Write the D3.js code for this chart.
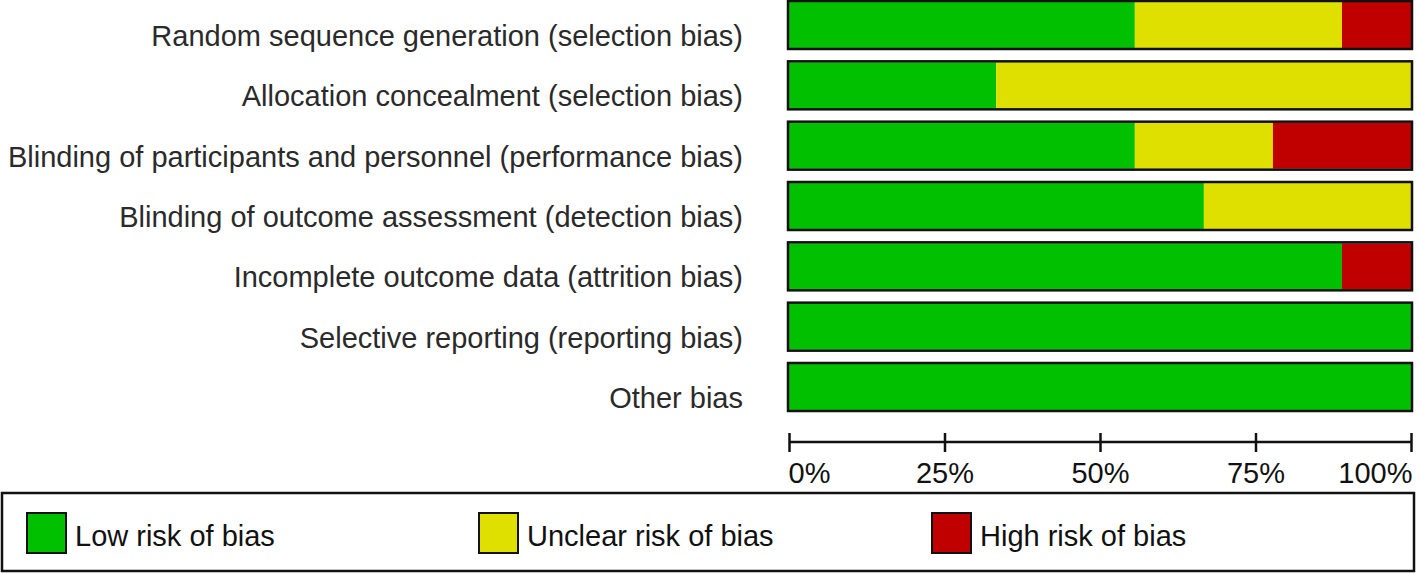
<!DOCTYPE html>
<html><head><meta charset="utf-8">
<script src="https://cdn.jsdelivr.net/npm/d3@7"></script>
<style>html,body{margin:0;padding:0;background:#fff}svg{display:block}</style>
</head><body>
<svg id="chart" width="1418" height="574"></svg>
<script>
const categories = [
  "Random sequence generation (selection bias)",
  "Allocation concealment (selection bias)",
  "Blinding of participants and personnel (performance bias)",
  "Blinding of outcome assessment (detection bias)",
  "Incomplete outcome data (attrition bias)",
  "Selective reporting (reporting bias)",
  "Other bias"
];
const lowRisk     = [55.6, 33.3, 55.6, 66.7, 88.9, 100, 100];
const unclearRisk = [33.3, 66.7, 22.2, 33.3, 0, 0, 0];
const highRisk    = [11.1, 0, 22.2, 0, 11.1, 0, 0];
const tickValues = [0, 25, 50, 75, 100];
const tickLabels = ["0%", "25%", "50%", "75%", "100%"];
const seriesNames = ["Low risk of bias", "Unclear risk of bias", "High risk of bias"];
const seriesColors = ["#00C000", "#E0E000", "#C00000"];

const svg = d3.select("#chart");
const font = "'Liberation Sans', Arial, Helvetica, sans-serif";
const fs = 29;

const x = d3.scaleLinear().domain([0, 100]).range([789, 1411]);
const y = d3.scaleBand().domain(categories).range([2, 410]).paddingInner(0.2376).paddingOuter(0);

const stackData = categories.map((c, i) => ({cat: c, low: lowRisk[i], unclear: unclearRisk[i], high: highRisk[i]}));
const stack = d3.stack().keys(["low", "unclear", "high"])(stackData);

const g = svg.append("g");
stack.forEach((layer, k) => {
  g.selectAll(null).data(layer.filter(d => d[1] - d[0] > 0)).enter().append("rect")
    .attr("x", d => x(d[0]))
    .attr("width", d => x(d[1]) - x(d[0]))
    .attr("y", d => y(d.data.cat))
    .attr("height", y.bandwidth())
    .attr("fill", seriesColors[k]);
});
// outlines
g.selectAll(null).data(categories).enter().append("rect")
  .attr("x", x(0) - 1).attr("width", x(100) - x(0) + 2)
  .attr("y", d => y(d) - 1).attr("height", y.bandwidth() + 2)
  .attr("fill", "none").attr("stroke", "#111").attr("stroke-width", 2.5);

// category labels
g.selectAll(null).data(categories).enter().append("text")
  .attr("x", 743)
  .attr("y", d => y(d) + y.bandwidth() / 2 + 21)
  .attr("text-anchor", "end")
  .attr("font-family", font).attr("font-size", fs)
  .attr("fill", "#2a2a2a")
  .text(d => d);

// axis
const axis = d3.axisBottom(x).tickValues(tickValues)
  .tickFormat((d, i) => tickLabels[i]).tickSizeOuter(0).tickSizeInner(10);
const ax = svg.append("g").attr("transform", "translate(0,442)").call(axis);
ax.select(".domain").attr("stroke", "#111").attr("stroke-width", 2.5).attr("d", `M${x(0)},0H${x(100)}`);
ax.selectAll(".tick line").attr("y1", -9).attr("y2", 10).attr("stroke", "#111").attr("stroke-width", 2.5);
ax.selectAll(".tick text")
  .attr("font-family", font).attr("font-size", fs).attr("fill", "#111")
  .attr("y", 41).attr("dy", 0)
  .attr("text-anchor", (d, i) => i === 0 ? "start" : (i === tickValues.length - 1 ? "end" : "middle"))
  .attr("x", (d, i) => i === 0 ? -1 : (i === tickValues.length - 1 ? 1 : 0));

// legend
svg.append("rect").attr("x", 2).attr("y", 493).attr("width", 1412).attr("height", 78)
  .attr("fill", "none").attr("stroke", "#111").attr("stroke-width", 2.5);
const legendX = [27, 479, 932];
const lg = svg.selectAll(".leg").data(seriesNames).enter().append("g")
  .attr("transform", (d, i) => `translate(${legendX[i]},513)`);
lg.append("rect").attr("width", 39).attr("height", 40)
  .attr("fill", (d, i) => seriesColors[i]).attr("stroke", "#111").attr("stroke-width", 2);
lg.append("text").attr("x", 48).attr("y", 33)
  .attr("font-family", font).attr("font-size", fs).attr("fill", "#111")
  .text(d => d);
</script>
</body></html>
